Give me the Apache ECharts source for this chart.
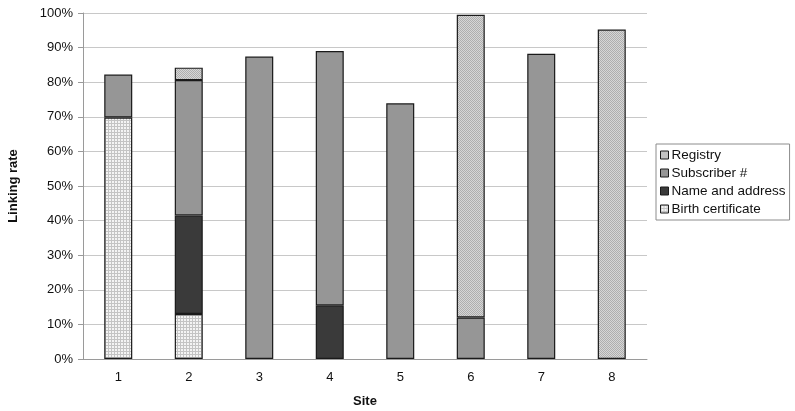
<!DOCTYPE html>
<html>
<head>
<meta charset="utf-8">
<script src="https://cdn.jsdelivr.net/npm/echarts@6/dist/echarts.min.js"></script>
<style>
  html, body { margin: 0; padding: 0; background: #fff; }
  #chart { width: 795px; height: 411px; }
</style>
</head>
<body>
<div id="chart"></div>
<script>
// values, percent
const sites = ['1', '2', '3', '4', '5', '6', '7', '8'];
const birthCertificate = [69.8, 13.0, null, null, null, null, null, null];
const nameAndAddress = [null, 28.5, null, 15.5, null, null, null, null];
const subscriber = [12.4, 39.1, 87.4, 73.5, 73.9, 12.0, 88.2, null];
const registry = [null, 3.6, null, null, null, 87.5, null, 95.2];
const yTicks = [0, 10, 20, 30, 40, 50, 60, 70, 80, 90, 100];

// small fill patterns like the old office chart
function makePattern(size, draw) {
  const c = document.createElement('canvas');
  c.width = size;
  c.height = size;
  draw(c.getContext('2d'));
  return { image: c, repeat: 'repeat' };
}

const dottedFill = makePattern(3, ctx => {
  ctx.fillStyle = '#f4f4f4';
  ctx.fillRect(0, 0, 3, 3);
  ctx.fillStyle = '#c4c4c4';
  ctx.fillRect(0, 0, 3, 1);
  ctx.fillRect(0, 0, 1, 3);
});

const checkFill = makePattern(2, ctx => {
  ctx.fillStyle = '#d6d6d6';
  ctx.fillRect(0, 0, 2, 2);
  ctx.fillStyle = '#aeaeae';
  ctx.fillRect(0, 0, 1, 1);
  ctx.fillRect(1, 1, 1, 1);
});

const chart = echarts.init(document.getElementById('chart'));

function barSeries(name, data, color) {
  return {
    name: name,
    type: 'bar',
    stack: 'total',
    barWidth: 28,
    data: data,
    itemStyle: {
      color: color,
      borderColor: '#1a1a1a',
      borderWidth: 1.2
    },
    emphasis: { disabled: true }
  };
}

chart.setOption({
  animation: false,
  textStyle: { fontFamily: 'Liberation Sans, Arial, sans-serif' },
  grid: {
    left: 83,
    right: 148,
    top: 13,
    bottom: 52,
    outerBoundsMode: 'none'
  },
  legend: {
    orient: 'vertical',
    left: 656,
    top: 144,
    padding: [4, 4, 4, 4],
    itemWidth: 8,
    itemHeight: 8,
    itemGap: 4,
    borderColor: '#8c8c8c',
    borderWidth: 1,
    icon: 'rect',
    itemStyle: { borderColor: '#1a1a1a', borderWidth: 1 },
    textStyle: { color: '#111', fontSize: 13.5, padding: [0, 0, 0, -2] },
    data: ['Registry', 'Subscriber #', 'Name and address', 'Birth certificate']
  },
  xAxis: {
    type: 'category',
    data: sites,
    name: 'Site',
    nameLocation: 'middle',
    nameGap: 36,
    nameTextStyle: { color: '#111', fontSize: 13, fontWeight: 'bold' },
    axisLine: { lineStyle: { color: '#9a9a9a', width: 1 } },
    axisTick: { alignWithLabel: false, length: 4, lineStyle: { color: '#9a9a9a' } },
    axisLabel: { color: '#111', fontSize: 13, margin: 12 },
    splitLine: { show: false }
  },
  yAxis: {
    type: 'value',
    min: 0,
    max: 100,
    interval: 10,
    name: 'Linking rate',
    nameLocation: 'middle',
    nameGap: 63,
    nameTextStyle: { color: '#111', fontSize: 13, fontWeight: 'bold' },
    axisLine: { show: true, lineStyle: { color: '#9a9a9a', width: 1 } },
    axisTick: { show: true, inside: false, length: 5, lineStyle: { color: '#9a9a9a' } },
    axisLabel: {
      color: '#111',
      fontSize: 13,
      margin: 10,
      formatter: v => (yTicks.indexOf(v) >= 0 ? v + '%' : '')
    },
    splitLine: { lineStyle: { color: '#c8c8c8', width: 1 } }
  },
  series: [
    barSeries('Birth certificate', birthCertificate, dottedFill),
    barSeries('Name and address', nameAndAddress, '#3a3a3a'),
    barSeries('Subscriber #', subscriber, '#969696'),
    barSeries('Registry', registry, checkFill)
  ]
});
</script>
</body>
</html>
